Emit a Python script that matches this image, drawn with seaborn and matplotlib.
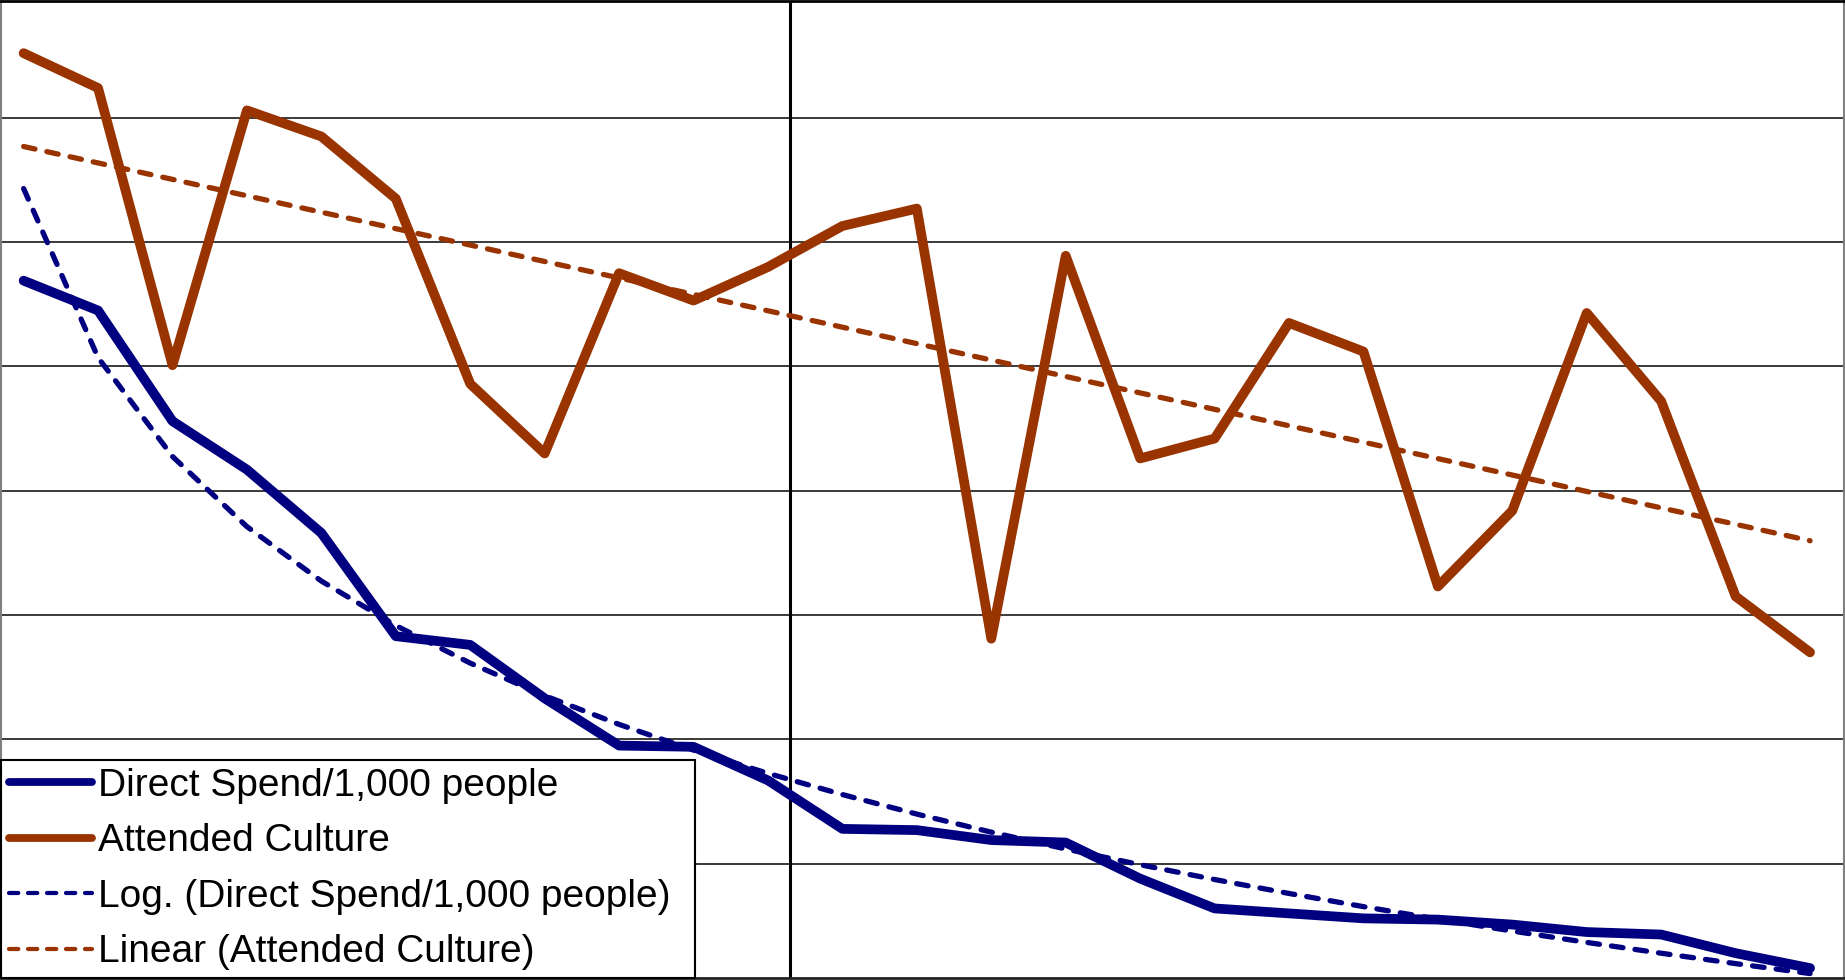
import numpy as np
import pandas as pd
import seaborn as sns
import matplotlib
matplotlib.use("Agg")
import matplotlib.pyplot as plt

# Series values (one point per area, ranked by direct spend)
direct_spend = [5.69, 5.45, 4.56, 4.17, 3.66, 2.83, 2.76, 2.33, 1.95, 1.94,
                1.67, 1.28, 1.27, 1.19, 1.17, 0.88, 0.64, 0.60, 0.56, 0.55,
                0.51, 0.45, 0.43, 0.28, 0.16]
attended_culture = [7.52, 7.24, 5.01, 7.06, 6.85, 6.35, 4.86, 4.30, 5.75, 5.53,
                    5.80, 6.13, 6.27, 2.81, 5.89, 4.26, 4.42, 5.35, 5.12, 3.23,
                    3.84, 5.43, 4.72, 3.15, 2.70]
labels = ["Direct Spend/1,000 people", "Attended Culture",
          "Log. (Direct Spend/1,000 people)", "Linear (Attended Culture)"]

BLUE = "#000080"
RUST = "#993300"

idx = np.arange(len(direct_spend))
df = pd.DataFrame({"idx": idx, "spend": direct_spend, "culture": attended_culture})

# Trendlines fitted the way a spreadsheet does (x counted from 1)
xs = idx + 1
b_log, a_log = np.polyfit(np.log(xs), df["spend"], 1)
df["spend_log"] = a_log + b_log * np.log(xs)
m_lin, c_lin = np.polyfit(xs, df["culture"], 1)
df["culture_lin"] = c_lin + m_lin * xs

sns.set_style("white")
plt.rcParams["font.family"] = ["Liberation Sans", "DejaVu Sans"]
plt.rcParams["text.color"] = "black"

fig = plt.figure(figsize=(18.45, 9.8), dpi=100)
ax = fig.add_axes([0.0005, 0.002, 0.999, 0.997])

solid_kw = dict(linewidth=7.0, solid_capstyle="round", solid_joinstyle="round")
dash_kw = dict(linewidth=3.8, dash_capstyle="round", dashes=(2.2, 2.3))

sns.lineplot(data=df, x="idx", y="spend", color=BLUE, ax=ax, label=labels[0], **solid_kw)
sns.lineplot(data=df, x="idx", y="culture", color=RUST, ax=ax, label=labels[1], **solid_kw)
sns.lineplot(data=df, x="idx", y="spend_log", color=BLUE, ax=ax, label=labels[2], **dash_kw)
sns.lineplot(data=df, x="idx", y="culture_lin", color=RUST, ax=ax, label=labels[3], **dash_kw)

ax.set_xlim(-0.305, 24.457)
ax.set_ylim(0.08, 7.94)
ax.set_yticks(np.arange(1, 8))
ax.set_xticks([])
ax.yaxis.grid(True, color="#3a3a3a", linewidth=1.4)
ax.set_axisbelow(True)
ax.tick_params(left=False, bottom=False, labelleft=False, labelbottom=False)
ax.set_xlabel("")
ax.set_ylabel("")
ax.axvline(10.30, color="black", linewidth=2.2, zorder=1)

ax.spines["top"].set_color("black")
ax.spines["top"].set_linewidth(2)
ax.spines["bottom"].set_color("#222222")
ax.spines["bottom"].set_linewidth(2)
for s in ("left", "right"):
    ax.spines[s].set_color("#808080")
    ax.spines[s].set_linewidth(1.5)

leg = ax.legend(loc="lower left", bbox_to_anchor=(0, 0, 0.3765, 0.2),
                mode="expand", borderaxespad=0,
                fontsize=28, handlelength=2.15, handletextpad=0.15,
                labelspacing=0.5, borderpad=0.2, fancybox=False,
                framealpha=1, edgecolor="black", frameon=True)
leg.get_frame().set_linewidth(1.5)
for t in leg.get_texts():
    t.set_color("black")
for h in leg.get_lines():
    h.set_linewidth(h.get_linewidth() * 0.8)

fig.savefig("out.png", dpi=100, facecolor="white")
